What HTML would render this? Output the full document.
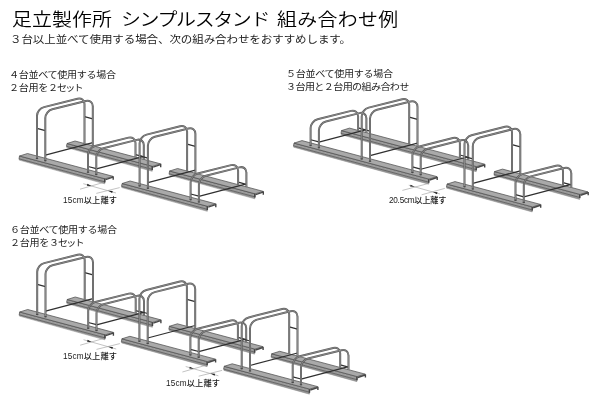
<!DOCTYPE html>
<html lang="ja"><head><meta charset="utf-8"><title>足立製作所 シンプルスタンド 組み合わせ例</title>
<style>
html,body{margin:0;padding:0;background:#fff}
body{width:600px;height:412px;overflow:hidden;position:relative;font-family:"Liberation Sans","Noto Sans CJK JP",sans-serif;color:#1a1a1a}
svg{position:absolute;left:0;top:0}
.t{position:absolute;white-space:nowrap;line-height:1;transform-origin:0 0;will-change:transform}
</style></head><body>
<div class="t" style="left:12.2px;top:12.4px;font-size:17.8px;letter-spacing:0.06px;color:#000;font-weight:350;transform:scaleX(1.12)">足立製作所</div>
<div class="t" style="left:121.2px;top:12.4px;font-size:17.8px;letter-spacing:-1.2px;color:#000;font-weight:350;transform:scaleX(1.12)">シンプルスタンド</div>
<div class="t" style="left:277px;top:12.4px;font-size:17.8px;letter-spacing:0.3px;color:#000;font-weight:350;transform:scaleX(1.12)">組み合わせ例</div>
<div class="t" style="left:10.4px;top:35.3px;font-size:10.3px;letter-spacing:-0.1px;color:#1c1c1c;font-weight:400;transform:scaleX(1.12)">３台以上並べて使用する場合、次の組み合わせをおすすめします。</div>
<div class="t" style="left:9.3px;top:70.6px;font-size:9px;letter-spacing:-0.3px;color:#1c1c1c;font-weight:400;transform:scaleX(1.12)">４台並べて使用する場合</div>
<div class="t" style="left:9.3px;top:83.6px;font-size:9px;letter-spacing:-0.3px;color:#1c1c1c;font-weight:400;transform:scaleX(1.12)">２台用を２</div>
<div class="t" style="left:57.3px;top:83.6px;font-size:9px;letter-spacing:-1.6px;color:#1c1c1c;font-weight:400;transform:scaleX(1.12)">セット</div>
<div class="t" style="left:285.5px;top:70.4px;font-size:9px;letter-spacing:-0.3px;color:#1c1c1c;font-weight:400;transform:scaleX(1.12)">５台並べて使用する場合</div>
<div class="t" style="left:285.5px;top:83.4px;font-size:9px;letter-spacing:-0.57px;color:#1c1c1c;font-weight:400;transform:scaleX(1.12)">３台用と２台用の組み合わせ</div>
<div class="t" style="left:9.8px;top:226px;font-size:9px;letter-spacing:-0.3px;color:#1c1c1c;font-weight:400;transform:scaleX(1.12)">６台並べて使用する場合</div>
<div class="t" style="left:9.8px;top:239px;font-size:9px;letter-spacing:-0.3px;color:#1c1c1c;font-weight:400;transform:scaleX(1.12)">２台用を３</div>
<div class="t" style="left:57.8px;top:239px;font-size:9px;letter-spacing:-1.6px;color:#1c1c1c;font-weight:400;transform:scaleX(1.12)">セット</div>
<div class="t" style="left:62.8px;top:197.4px;font-size:8.2px;letter-spacing:0.18px;color:#1a1a1a;font-weight:500;transform:scaleX(1)">15cm以上離す</div>
<div class="t" style="left:62.8px;top:352.5px;font-size:8.2px;letter-spacing:0.18px;color:#1a1a1a;font-weight:500;transform:scaleX(1)">15cm以上離す</div>
<div class="t" style="left:166.1px;top:380.2px;font-size:8.2px;letter-spacing:0.18px;color:#1a1a1a;font-weight:500;transform:scaleX(1)">15cm以上離す</div>
<div class="t" style="left:388.6px;top:197.4px;font-size:8.2px;letter-spacing:-0.25px;color:#1a1a1a;font-weight:500;transform:scaleX(1)">20.5cm以上離す</div>
<svg width="600" height="412" viewBox="0 0 600 412">
<polygon points="66.5,146.3 152.5,169.43 152.2,171.33 66.7,147.6" fill="#959595" stroke="#8c8c8c" stroke-width="0.5" stroke-linejoin="round"/>
<polygon points="67,143.5 152.5,166.33 152.5,169.43 66.5,146.3" fill="#9b9b9b" stroke="#525252" stroke-width="0.75" stroke-linejoin="round"/>
<polygon points="67,143.5 75,141 160.5,163.83 152.5,166.33" fill="#a9a9a9" stroke="#525252" stroke-width="0.75" stroke-linejoin="round"/>
<path d="M153.1 167.18 L160.5 164.68" stroke="#484848" stroke-width="1.4" fill="none"/>
<path d="M152.2 166.33 v3.6 M160.7 163.83 v3.4" stroke="#444" stroke-width="1.4" fill="none"/>
<polygon points="19,158.8 105,181.93 104.7,183.83 19.2,160.1" fill="#959595" stroke="#8c8c8c" stroke-width="0.5" stroke-linejoin="round"/>
<polygon points="19.5,156 105,178.83 105,181.93 19,158.8" fill="#9b9b9b" stroke="#525252" stroke-width="0.75" stroke-linejoin="round"/>
<polygon points="19.5,156 27.5,153.5 113,176.33 105,178.83" fill="#a9a9a9" stroke="#525252" stroke-width="0.75" stroke-linejoin="round"/>
<path d="M105.6 179.68 L113 177.18" stroke="#484848" stroke-width="1.4" fill="none"/>
<path d="M104.7 178.83 v3.6 M113.2 176.33 v3.4" stroke="#444" stroke-width="1.4" fill="none"/>
<path d="M37 128.47 L45.3 130.69 M84.5 116.57 L92.8 118.79 M45.3 155.19 L92.8 142.69 M88 166.49 L96.3 168.71 M135.5 154.59 L143.8 156.81 M96.3 168.81 L143.8 156.31" fill="none" stroke="#303030" stroke-width="1.25"/>
<path d="M37 158.47 V115.87 C37 112.01 40.13 108.09 44 107.12 L77.5 98.73 C81.37 97.76 84.5 100.11 84.5 103.97 V143.57 M45.3 160.69 V118.09 C45.3 114.22 48.43 110.3 52.3 109.33 L85.8 100.94 C89.67 99.97 92.8 102.32 92.8 106.19 V145.79 M88 172.09 V154.79 C88 150.92 91.13 147 95 146.04 L128.5 137.64 C132.37 136.67 135.5 139.02 135.5 142.89 V157.19 M96.3 174.31 V157.01 C96.3 153.14 99.43 149.22 103.3 148.25 L136.8 139.86 C140.67 138.89 143.8 141.24 143.8 145.11 V159.41" fill="none" stroke="#5a5a5a" stroke-width="2" stroke-linecap="butt"/><path d="M37 158.47 V115.87 C37 112.01 40.13 108.09 44 107.12 L77.5 98.73 C81.37 97.76 84.5 100.11 84.5 103.97 V143.57 M45.3 160.69 V118.09 C45.3 114.22 48.43 110.3 52.3 109.33 L85.8 100.94 C89.67 99.97 92.8 102.32 92.8 106.19 V145.79 M88 172.09 V154.79 C88 150.92 91.13 147 95 146.04 L128.5 137.64 C132.37 136.67 135.5 139.02 135.5 142.89 V157.19 M96.3 174.31 V157.01 C96.3 153.14 99.43 149.22 103.3 148.25 L136.8 139.86 C140.67 138.89 143.8 141.24 143.8 145.11 V159.41" fill="none" stroke="#a6a6a6" stroke-width="0.6" stroke-linecap="butt"/>
<ellipse cx="37" cy="158.57" rx="1.3" ry="0.75" fill="#4a4a4a"/><ellipse cx="45.3" cy="160.79" rx="1.3" ry="0.75" fill="#4a4a4a"/><ellipse cx="88" cy="172.19" rx="1.3" ry="0.75" fill="#4a4a4a"/><ellipse cx="96.3" cy="174.41" rx="1.3" ry="0.75" fill="#4a4a4a"/>
<polygon points="169.1,173.8 255.1,196.93 254.8,198.83 169.3,175.1" fill="#959595" stroke="#8c8c8c" stroke-width="0.5" stroke-linejoin="round"/>
<polygon points="169.6,171 255.1,193.83 255.1,196.93 169.1,173.8" fill="#9b9b9b" stroke="#525252" stroke-width="0.75" stroke-linejoin="round"/>
<polygon points="169.6,171 177.6,168.5 263.1,191.33 255.1,193.83" fill="#a9a9a9" stroke="#525252" stroke-width="0.75" stroke-linejoin="round"/>
<path d="M255.7 194.68 L263.1 192.18" stroke="#484848" stroke-width="1.4" fill="none"/>
<path d="M254.8 193.83 v3.6 M263.3 191.33 v3.4" stroke="#444" stroke-width="1.4" fill="none"/>
<polygon points="121.6,186.3 207.6,209.43 207.3,211.33 121.8,187.6" fill="#959595" stroke="#8c8c8c" stroke-width="0.5" stroke-linejoin="round"/>
<polygon points="122.1,183.5 207.6,206.33 207.6,209.43 121.6,186.3" fill="#9b9b9b" stroke="#525252" stroke-width="0.75" stroke-linejoin="round"/>
<polygon points="122.1,183.5 130.1,181 215.6,203.83 207.6,206.33" fill="#a9a9a9" stroke="#525252" stroke-width="0.75" stroke-linejoin="round"/>
<path d="M208.2 207.18 L215.6 204.68" stroke="#484848" stroke-width="1.4" fill="none"/>
<path d="M207.3 206.33 v3.6 M215.8 203.83 v3.4" stroke="#444" stroke-width="1.4" fill="none"/>
<path d="M139.6 155.97 L147.9 158.19 M187.1 144.07 L195.4 146.29 M147.9 182.69 L195.4 170.19 M190.6 193.99 L198.9 196.21 M238.1 182.09 L246.4 184.31 M198.9 196.31 L246.4 183.81" fill="none" stroke="#303030" stroke-width="1.25"/>
<path d="M139.6 185.97 V143.37 C139.6 139.51 142.73 135.59 146.6 134.62 L180.1 126.23 C183.97 125.26 187.1 127.61 187.1 131.47 V171.07 M147.9 188.19 V145.59 C147.9 141.72 151.03 137.8 154.9 136.83 L188.4 128.44 C192.27 127.47 195.4 129.82 195.4 133.69 V173.29 M190.6 199.59 V182.29 C190.6 178.42 193.73 174.5 197.6 173.54 L231.1 165.14 C234.97 164.17 238.1 166.52 238.1 170.39 V184.69 M198.9 201.81 V184.51 C198.9 180.64 202.03 176.72 205.9 175.75 L239.4 167.36 C243.27 166.39 246.4 168.74 246.4 172.61 V186.91" fill="none" stroke="#5a5a5a" stroke-width="2" stroke-linecap="butt"/><path d="M139.6 185.97 V143.37 C139.6 139.51 142.73 135.59 146.6 134.62 L180.1 126.23 C183.97 125.26 187.1 127.61 187.1 131.47 V171.07 M147.9 188.19 V145.59 C147.9 141.72 151.03 137.8 154.9 136.83 L188.4 128.44 C192.27 127.47 195.4 129.82 195.4 133.69 V173.29 M190.6 199.59 V182.29 C190.6 178.42 193.73 174.5 197.6 173.54 L231.1 165.14 C234.97 164.17 238.1 166.52 238.1 170.39 V184.69 M198.9 201.81 V184.51 C198.9 180.64 202.03 176.72 205.9 175.75 L239.4 167.36 C243.27 166.39 246.4 168.74 246.4 172.61 V186.91" fill="none" stroke="#a6a6a6" stroke-width="0.6" stroke-linecap="butt"/>
<ellipse cx="139.6" cy="186.07" rx="1.3" ry="0.75" fill="#4a4a4a"/><ellipse cx="147.9" cy="188.29" rx="1.3" ry="0.75" fill="#4a4a4a"/><ellipse cx="190.6" cy="199.69" rx="1.3" ry="0.75" fill="#4a4a4a"/><ellipse cx="198.9" cy="201.91" rx="1.3" ry="0.75" fill="#4a4a4a"/>
<path d="M103.3 182.5 L80 189.2 M119.7 187.6 L96.3 193.4 M83.3 183.7 L116 193" fill="none" stroke="#9a9a9a" stroke-width="0.6"/>
<polygon points="91.4,186 86.89,185.76 87.44,183.84" fill="#222"/>
<polygon points="108.2,190.78 112.71,191.03 112.16,192.95" fill="#222"/>
<polygon points="341,133.4 476.5,169.74 476.2,171.64 341.2,134.7" fill="#959595" stroke="#8c8c8c" stroke-width="0.5" stroke-linejoin="round"/>
<polygon points="341.5,130.6 476.5,166.64 476.5,169.74 341,133.4" fill="#9b9b9b" stroke="#525252" stroke-width="0.75" stroke-linejoin="round"/>
<polygon points="341.5,130.6 349.5,128.1 484.5,164.14 476.5,166.64" fill="#a9a9a9" stroke="#525252" stroke-width="0.75" stroke-linejoin="round"/>
<path d="M477.1 167.49 L484.5 164.99" stroke="#484848" stroke-width="1.4" fill="none"/>
<path d="M476.2 166.64 v3.6 M484.7 164.14 v3.4" stroke="#444" stroke-width="1.4" fill="none"/>
<polygon points="293.5,145.9 429,182.24 428.7,184.14 293.7,147.2" fill="#959595" stroke="#8c8c8c" stroke-width="0.5" stroke-linejoin="round"/>
<polygon points="294,143.1 429,179.14 429,182.24 293.5,145.9" fill="#9b9b9b" stroke="#525252" stroke-width="0.75" stroke-linejoin="round"/>
<polygon points="294,143.1 302,140.6 437,176.64 429,179.14" fill="#a9a9a9" stroke="#525252" stroke-width="0.75" stroke-linejoin="round"/>
<path d="M429.6 179.99 L437 177.49" stroke="#484848" stroke-width="1.4" fill="none"/>
<path d="M428.7 179.14 v3.6 M437.2 176.64 v3.4" stroke="#444" stroke-width="1.4" fill="none"/>
<path d="M310.6 139.73 L318.9 141.95 M358.1 127.83 L366.4 130.05 M318.9 142.05 L366.4 129.55 M361.7 128.98 L370 131.19 M409.2 117.08 L417.5 119.29 M370 155.69 L417.5 143.19 M412.4 166.91 L420.7 169.13 M459.9 155.01 L468.2 157.23 M420.7 169.23 L468.2 156.73" fill="none" stroke="#303030" stroke-width="1.25"/>
<path d="M310.6 145.33 V128.03 C310.6 124.17 313.73 120.25 317.6 119.28 L351.1 110.89 C354.97 109.92 358.1 112.27 358.1 116.13 V130.43 M318.9 147.55 V130.25 C318.9 126.38 322.03 122.46 325.9 121.49 L359.4 113.1 C363.27 112.13 366.4 114.48 366.4 118.35 V132.65 M361.7 158.98 V116.38 C361.7 112.51 364.83 108.59 368.7 107.62 L402.2 99.23 C406.07 98.26 409.2 100.61 409.2 104.48 V144.08 M370 161.19 V118.59 C370 114.73 373.13 110.81 377 109.84 L410.5 101.45 C414.37 100.48 417.5 102.83 417.5 106.69 V146.29 M412.4 172.51 V155.21 C412.4 151.35 415.53 147.43 419.4 146.46 L452.9 138.07 C456.77 137.1 459.9 139.45 459.9 143.31 V157.61 M420.7 174.73 V157.43 C420.7 153.56 423.83 149.64 427.7 148.68 L461.2 140.28 C465.07 139.31 468.2 141.66 468.2 145.53 V159.83" fill="none" stroke="#5a5a5a" stroke-width="2" stroke-linecap="butt"/><path d="M310.6 145.33 V128.03 C310.6 124.17 313.73 120.25 317.6 119.28 L351.1 110.89 C354.97 109.92 358.1 112.27 358.1 116.13 V130.43 M318.9 147.55 V130.25 C318.9 126.38 322.03 122.46 325.9 121.49 L359.4 113.1 C363.27 112.13 366.4 114.48 366.4 118.35 V132.65 M361.7 158.98 V116.38 C361.7 112.51 364.83 108.59 368.7 107.62 L402.2 99.23 C406.07 98.26 409.2 100.61 409.2 104.48 V144.08 M370 161.19 V118.59 C370 114.73 373.13 110.81 377 109.84 L410.5 101.45 C414.37 100.48 417.5 102.83 417.5 106.69 V146.29 M412.4 172.51 V155.21 C412.4 151.35 415.53 147.43 419.4 146.46 L452.9 138.07 C456.77 137.1 459.9 139.45 459.9 143.31 V157.61 M420.7 174.73 V157.43 C420.7 153.56 423.83 149.64 427.7 148.68 L461.2 140.28 C465.07 139.31 468.2 141.66 468.2 145.53 V159.83" fill="none" stroke="#a6a6a6" stroke-width="0.6" stroke-linecap="butt"/>
<ellipse cx="310.6" cy="145.43" rx="1.3" ry="0.75" fill="#4a4a4a"/><ellipse cx="318.9" cy="147.65" rx="1.3" ry="0.75" fill="#4a4a4a"/><ellipse cx="361.7" cy="159.08" rx="1.3" ry="0.75" fill="#4a4a4a"/><ellipse cx="370" cy="161.29" rx="1.3" ry="0.75" fill="#4a4a4a"/><ellipse cx="412.4" cy="172.61" rx="1.3" ry="0.75" fill="#4a4a4a"/><ellipse cx="420.7" cy="174.83" rx="1.3" ry="0.75" fill="#4a4a4a"/>
<polygon points="494,174.4 580,197.53 579.7,199.43 494.2,175.7" fill="#959595" stroke="#8c8c8c" stroke-width="0.5" stroke-linejoin="round"/>
<polygon points="494.5,171.6 580,194.43 580,197.53 494,174.4" fill="#9b9b9b" stroke="#525252" stroke-width="0.75" stroke-linejoin="round"/>
<polygon points="494.5,171.6 502.5,169.1 588,191.93 580,194.43" fill="#a9a9a9" stroke="#525252" stroke-width="0.75" stroke-linejoin="round"/>
<path d="M580.6 195.28 L588 192.78" stroke="#484848" stroke-width="1.4" fill="none"/>
<path d="M579.7 194.43 v3.6 M588.2 191.93 v3.4" stroke="#444" stroke-width="1.4" fill="none"/>
<polygon points="446.5,186.9 532.5,210.03 532.2,211.93 446.7,188.2" fill="#959595" stroke="#8c8c8c" stroke-width="0.5" stroke-linejoin="round"/>
<polygon points="447,184.1 532.5,206.93 532.5,210.03 446.5,186.9" fill="#9b9b9b" stroke="#525252" stroke-width="0.75" stroke-linejoin="round"/>
<polygon points="447,184.1 455,181.6 540.5,204.43 532.5,206.93" fill="#a9a9a9" stroke="#525252" stroke-width="0.75" stroke-linejoin="round"/>
<path d="M533.1 207.78 L540.5 205.28" stroke="#484848" stroke-width="1.4" fill="none"/>
<path d="M532.2 206.93 v3.6 M540.7 204.43 v3.4" stroke="#444" stroke-width="1.4" fill="none"/>
<path d="M464.5 156.57 L472.8 158.79 M512 144.67 L520.3 146.89 M472.8 183.29 L520.3 170.79 M515.5 194.59 L523.8 196.81 M563 182.69 L571.3 184.91 M523.8 196.91 L571.3 184.41" fill="none" stroke="#303030" stroke-width="1.25"/>
<path d="M464.5 186.57 V143.97 C464.5 140.11 467.63 136.19 471.5 135.22 L505 126.83 C508.87 125.86 512 128.21 512 132.07 V171.67 M472.8 188.79 V146.19 C472.8 142.32 475.93 138.4 479.8 137.43 L513.3 129.04 C517.17 128.07 520.3 130.42 520.3 134.29 V173.89 M515.5 200.19 V182.89 C515.5 179.02 518.63 175.1 522.5 174.14 L556 165.74 C559.87 164.77 563 167.12 563 170.99 V185.29 M523.8 202.41 V185.11 C523.8 181.24 526.93 177.32 530.8 176.35 L564.3 167.96 C568.17 166.99 571.3 169.34 571.3 173.21 V187.51" fill="none" stroke="#5a5a5a" stroke-width="2" stroke-linecap="butt"/><path d="M464.5 186.57 V143.97 C464.5 140.11 467.63 136.19 471.5 135.22 L505 126.83 C508.87 125.86 512 128.21 512 132.07 V171.67 M472.8 188.79 V146.19 C472.8 142.32 475.93 138.4 479.8 137.43 L513.3 129.04 C517.17 128.07 520.3 130.42 520.3 134.29 V173.89 M515.5 200.19 V182.89 C515.5 179.02 518.63 175.1 522.5 174.14 L556 165.74 C559.87 164.77 563 167.12 563 170.99 V185.29 M523.8 202.41 V185.11 C523.8 181.24 526.93 177.32 530.8 176.35 L564.3 167.96 C568.17 166.99 571.3 169.34 571.3 173.21 V187.51" fill="none" stroke="#a6a6a6" stroke-width="0.6" stroke-linecap="butt"/>
<ellipse cx="464.5" cy="186.67" rx="1.3" ry="0.75" fill="#4a4a4a"/><ellipse cx="472.8" cy="188.89" rx="1.3" ry="0.75" fill="#4a4a4a"/><ellipse cx="515.5" cy="200.29" rx="1.3" ry="0.75" fill="#4a4a4a"/><ellipse cx="523.8" cy="202.51" rx="1.3" ry="0.75" fill="#4a4a4a"/>
<path d="M428 183.6 L402.4 190.4 M444.8 188.4 L421.6 194.8 M408.8 185.2 L440 194" fill="none" stroke="#9a9a9a" stroke-width="0.6"/>
<polygon points="414.6,186.84 410.09,186.59 410.64,184.67" fill="#222"/>
<polygon points="433,192.03 437.51,192.27 436.96,194.19" fill="#222"/>
<polygon points="66.7,302.3 152.7,325.43 152.4,327.33 66.9,303.6" fill="#959595" stroke="#8c8c8c" stroke-width="0.5" stroke-linejoin="round"/>
<polygon points="67.2,299.5 152.7,322.33 152.7,325.43 66.7,302.3" fill="#9b9b9b" stroke="#525252" stroke-width="0.75" stroke-linejoin="round"/>
<polygon points="67.2,299.5 75.2,297 160.7,319.83 152.7,322.33" fill="#a9a9a9" stroke="#525252" stroke-width="0.75" stroke-linejoin="round"/>
<path d="M153.3 323.18 L160.7 320.68" stroke="#484848" stroke-width="1.4" fill="none"/>
<path d="M152.4 322.33 v3.6 M160.9 319.83 v3.4" stroke="#444" stroke-width="1.4" fill="none"/>
<polygon points="19.2,314.8 105.2,337.93 104.9,339.83 19.4,316.1" fill="#959595" stroke="#8c8c8c" stroke-width="0.5" stroke-linejoin="round"/>
<polygon points="19.7,312 105.2,334.83 105.2,337.93 19.2,314.8" fill="#9b9b9b" stroke="#525252" stroke-width="0.75" stroke-linejoin="round"/>
<polygon points="19.7,312 27.7,309.5 113.2,332.33 105.2,334.83" fill="#a9a9a9" stroke="#525252" stroke-width="0.75" stroke-linejoin="round"/>
<path d="M105.8 335.68 L113.2 333.18" stroke="#484848" stroke-width="1.4" fill="none"/>
<path d="M104.9 334.83 v3.6 M113.4 332.33 v3.4" stroke="#444" stroke-width="1.4" fill="none"/>
<path d="M37.2 284.47 L45.5 286.69 M84.7 272.57 L93 274.79 M45.5 311.19 L93 298.69 M88.2 322.49 L96.5 324.71 M135.7 310.59 L144 312.81 M96.5 324.81 L144 312.31" fill="none" stroke="#303030" stroke-width="1.25"/>
<path d="M37.2 314.47 V271.87 C37.2 268.01 40.33 264.09 44.2 263.12 L77.7 254.73 C81.57 253.76 84.7 256.11 84.7 259.97 V299.57 M45.5 316.69 V274.09 C45.5 270.22 48.63 266.3 52.5 265.33 L86 256.94 C89.87 255.97 93 258.32 93 262.19 V301.79 M88.2 328.09 V310.79 C88.2 306.92 91.33 303 95.2 302.04 L128.7 293.64 C132.57 292.67 135.7 295.02 135.7 298.89 V313.19 M96.5 330.31 V313.01 C96.5 309.14 99.63 305.22 103.5 304.25 L137 295.86 C140.87 294.89 144 297.24 144 301.11 V315.41" fill="none" stroke="#5a5a5a" stroke-width="2" stroke-linecap="butt"/><path d="M37.2 314.47 V271.87 C37.2 268.01 40.33 264.09 44.2 263.12 L77.7 254.73 C81.57 253.76 84.7 256.11 84.7 259.97 V299.57 M45.5 316.69 V274.09 C45.5 270.22 48.63 266.3 52.5 265.33 L86 256.94 C89.87 255.97 93 258.32 93 262.19 V301.79 M88.2 328.09 V310.79 C88.2 306.92 91.33 303 95.2 302.04 L128.7 293.64 C132.57 292.67 135.7 295.02 135.7 298.89 V313.19 M96.5 330.31 V313.01 C96.5 309.14 99.63 305.22 103.5 304.25 L137 295.86 C140.87 294.89 144 297.24 144 301.11 V315.41" fill="none" stroke="#a6a6a6" stroke-width="0.6" stroke-linecap="butt"/>
<ellipse cx="37.2" cy="314.57" rx="1.3" ry="0.75" fill="#4a4a4a"/><ellipse cx="45.5" cy="316.79" rx="1.3" ry="0.75" fill="#4a4a4a"/><ellipse cx="88.2" cy="328.19" rx="1.3" ry="0.75" fill="#4a4a4a"/><ellipse cx="96.5" cy="330.41" rx="1.3" ry="0.75" fill="#4a4a4a"/>
<polygon points="168.9,329.1 254.9,352.23 254.6,354.13 169.1,330.4" fill="#959595" stroke="#8c8c8c" stroke-width="0.5" stroke-linejoin="round"/>
<polygon points="169.4,326.3 254.9,349.13 254.9,352.23 168.9,329.1" fill="#9b9b9b" stroke="#525252" stroke-width="0.75" stroke-linejoin="round"/>
<polygon points="169.4,326.3 177.4,323.8 262.9,346.63 254.9,349.13" fill="#a9a9a9" stroke="#525252" stroke-width="0.75" stroke-linejoin="round"/>
<path d="M255.5 349.98 L262.9 347.48" stroke="#484848" stroke-width="1.4" fill="none"/>
<path d="M254.6 349.13 v3.6 M263.1 346.63 v3.4" stroke="#444" stroke-width="1.4" fill="none"/>
<polygon points="121.4,341.6 207.4,364.73 207.1,366.63 121.6,342.9" fill="#959595" stroke="#8c8c8c" stroke-width="0.5" stroke-linejoin="round"/>
<polygon points="121.9,338.8 207.4,361.63 207.4,364.73 121.4,341.6" fill="#9b9b9b" stroke="#525252" stroke-width="0.75" stroke-linejoin="round"/>
<polygon points="121.9,338.8 129.9,336.3 215.4,359.13 207.4,361.63" fill="#a9a9a9" stroke="#525252" stroke-width="0.75" stroke-linejoin="round"/>
<path d="M208 362.48 L215.4 359.98" stroke="#484848" stroke-width="1.4" fill="none"/>
<path d="M207.1 361.63 v3.6 M215.6 359.13 v3.4" stroke="#444" stroke-width="1.4" fill="none"/>
<path d="M139.4 311.27 L147.7 313.49 M186.9 299.37 L195.2 301.59 M147.7 337.99 L195.2 325.49 M190.4 349.29 L198.7 351.51 M237.9 337.39 L246.2 339.61 M198.7 351.61 L246.2 339.11" fill="none" stroke="#303030" stroke-width="1.25"/>
<path d="M139.4 341.27 V298.67 C139.4 294.81 142.53 290.89 146.4 289.92 L179.9 281.53 C183.77 280.56 186.9 282.91 186.9 286.77 V326.37 M147.7 343.49 V300.89 C147.7 297.02 150.83 293.1 154.7 292.13 L188.2 283.74 C192.07 282.77 195.2 285.12 195.2 288.99 V328.59 M190.4 354.89 V337.59 C190.4 333.72 193.53 329.8 197.4 328.84 L230.9 320.44 C234.77 319.47 237.9 321.82 237.9 325.69 V339.99 M198.7 357.11 V339.81 C198.7 335.94 201.83 332.02 205.7 331.05 L239.2 322.66 C243.07 321.69 246.2 324.04 246.2 327.91 V342.21" fill="none" stroke="#5a5a5a" stroke-width="2" stroke-linecap="butt"/><path d="M139.4 341.27 V298.67 C139.4 294.81 142.53 290.89 146.4 289.92 L179.9 281.53 C183.77 280.56 186.9 282.91 186.9 286.77 V326.37 M147.7 343.49 V300.89 C147.7 297.02 150.83 293.1 154.7 292.13 L188.2 283.74 C192.07 282.77 195.2 285.12 195.2 288.99 V328.59 M190.4 354.89 V337.59 C190.4 333.72 193.53 329.8 197.4 328.84 L230.9 320.44 C234.77 319.47 237.9 321.82 237.9 325.69 V339.99 M198.7 357.11 V339.81 C198.7 335.94 201.83 332.02 205.7 331.05 L239.2 322.66 C243.07 321.69 246.2 324.04 246.2 327.91 V342.21" fill="none" stroke="#a6a6a6" stroke-width="0.6" stroke-linecap="butt"/>
<ellipse cx="139.4" cy="341.37" rx="1.3" ry="0.75" fill="#4a4a4a"/><ellipse cx="147.7" cy="343.59" rx="1.3" ry="0.75" fill="#4a4a4a"/><ellipse cx="190.4" cy="354.99" rx="1.3" ry="0.75" fill="#4a4a4a"/><ellipse cx="198.7" cy="357.21" rx="1.3" ry="0.75" fill="#4a4a4a"/>
<polygon points="271.2,356.6 357.2,379.73 356.9,381.63 271.4,357.9" fill="#959595" stroke="#8c8c8c" stroke-width="0.5" stroke-linejoin="round"/>
<polygon points="271.7,353.8 357.2,376.63 357.2,379.73 271.2,356.6" fill="#9b9b9b" stroke="#525252" stroke-width="0.75" stroke-linejoin="round"/>
<polygon points="271.7,353.8 279.7,351.3 365.2,374.13 357.2,376.63" fill="#a9a9a9" stroke="#525252" stroke-width="0.75" stroke-linejoin="round"/>
<path d="M357.8 377.48 L365.2 374.98" stroke="#484848" stroke-width="1.4" fill="none"/>
<path d="M356.9 376.63 v3.6 M365.4 374.13 v3.4" stroke="#444" stroke-width="1.4" fill="none"/>
<polygon points="223.7,369.1 309.7,392.23 309.4,394.13 223.9,370.4" fill="#959595" stroke="#8c8c8c" stroke-width="0.5" stroke-linejoin="round"/>
<polygon points="224.2,366.3 309.7,389.13 309.7,392.23 223.7,369.1" fill="#9b9b9b" stroke="#525252" stroke-width="0.75" stroke-linejoin="round"/>
<polygon points="224.2,366.3 232.2,363.8 317.7,386.63 309.7,389.13" fill="#a9a9a9" stroke="#525252" stroke-width="0.75" stroke-linejoin="round"/>
<path d="M310.3 389.98 L317.7 387.48" stroke="#484848" stroke-width="1.4" fill="none"/>
<path d="M309.4 389.13 v3.6 M317.9 386.63 v3.4" stroke="#444" stroke-width="1.4" fill="none"/>
<path d="M241.7 338.77 L250 340.99 M289.2 326.87 L297.5 329.09 M250 365.49 L297.5 352.99 M292.7 376.79 L301 379.01 M340.2 364.89 L348.5 367.11 M301 379.11 L348.5 366.61" fill="none" stroke="#303030" stroke-width="1.25"/>
<path d="M241.7 368.77 V326.17 C241.7 322.31 244.83 318.39 248.7 317.42 L282.2 309.03 C286.07 308.06 289.2 310.41 289.2 314.27 V353.87 M250 370.99 V328.39 C250 324.52 253.13 320.6 257 319.63 L290.5 311.24 C294.37 310.27 297.5 312.62 297.5 316.49 V356.09 M292.7 382.39 V365.09 C292.7 361.22 295.83 357.3 299.7 356.34 L333.2 347.94 C337.07 346.97 340.2 349.32 340.2 353.19 V367.49 M301 384.61 V367.31 C301 363.44 304.13 359.52 308 358.55 L341.5 350.16 C345.37 349.19 348.5 351.54 348.5 355.41 V369.71" fill="none" stroke="#5a5a5a" stroke-width="2" stroke-linecap="butt"/><path d="M241.7 368.77 V326.17 C241.7 322.31 244.83 318.39 248.7 317.42 L282.2 309.03 C286.07 308.06 289.2 310.41 289.2 314.27 V353.87 M250 370.99 V328.39 C250 324.52 253.13 320.6 257 319.63 L290.5 311.24 C294.37 310.27 297.5 312.62 297.5 316.49 V356.09 M292.7 382.39 V365.09 C292.7 361.22 295.83 357.3 299.7 356.34 L333.2 347.94 C337.07 346.97 340.2 349.32 340.2 353.19 V367.49 M301 384.61 V367.31 C301 363.44 304.13 359.52 308 358.55 L341.5 350.16 C345.37 349.19 348.5 351.54 348.5 355.41 V369.71" fill="none" stroke="#a6a6a6" stroke-width="0.6" stroke-linecap="butt"/>
<ellipse cx="241.7" cy="368.87" rx="1.3" ry="0.75" fill="#4a4a4a"/><ellipse cx="250" cy="371.09" rx="1.3" ry="0.75" fill="#4a4a4a"/><ellipse cx="292.7" cy="382.49" rx="1.3" ry="0.75" fill="#4a4a4a"/><ellipse cx="301" cy="384.71" rx="1.3" ry="0.75" fill="#4a4a4a"/>
<path d="M103.5 338.5 L80.2 345.2 M119.9 343.6 L96.5 349.4 M83.5 339.7 L116.2 349" fill="none" stroke="#9a9a9a" stroke-width="0.6"/>
<polygon points="91.6,342 87.09,341.76 87.64,339.84" fill="#222"/>
<polygon points="108.4,346.78 112.91,347.03 112.36,348.95" fill="#222"/>
<path d="M205.7 365.3 L182.4 372 M222.1 370.4 L198.7 376.2 M185.7 366.5 L218.4 375.8" fill="none" stroke="#9a9a9a" stroke-width="0.6"/>
<polygon points="193.8,368.8 189.29,368.56 189.84,366.64" fill="#222"/>
<polygon points="210.6,373.58 215.11,373.83 214.56,375.75" fill="#222"/>
</svg>
</body></html>
